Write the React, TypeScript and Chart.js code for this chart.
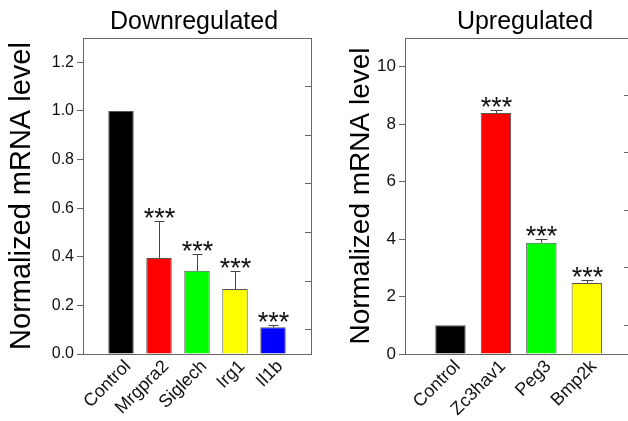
import React, { useEffect, useRef } from 'react';
import { Chart, registerables } from 'chart.js';

Chart.register(...registerables);

const FONT = '"Liberation Sans", Arial, Helvetica, sans-serif';

// ---- Downregulated panel data ----
const downCategories = ['Control', 'Mrgpra2', 'Siglech', 'Irg1', 'Il1b'];
const downValues = [1.0, 0.395, 0.342, 0.267, 0.11];
const downErrors = [0, 0.151, 0.069, 0.075, 0.01];
const downColors = ['#000000', '#ff0000', '#00ff00', '#ffff00', '#0000ff'];
const downStars = ['', '***', '***', '***', '***'];
const downYTicks = [0, 0.2, 0.4, 0.6, 0.8, 1.0, 1.2];
const downMinorTicks = [0.1, 0.3, 0.5, 0.7, 0.9, 1.1];

// ---- Upregulated panel data ----
const upCategories = ['Control', 'Zc3hav1', 'Peg3', 'Bmp2k'];
const upValues = [1.0, 8.39, 3.87, 2.47];
const upErrors = [0, 0.1, 0.13, 0.09];
const upColors = ['#000000', '#ff0000', '#00ff00', '#ffff00'];
const upStars = ['', '***', '***', '***'];
const upYTicks = [0, 2, 4, 6, 8, 10];
const upMinorTicks = [1, 3, 5, 7, 9];

type Panel = {
  title: string;
  titleX: number;
  categories: string[];
  values: number[];
  errors: number[];
  colors: string[];
  stars: string[];
  yTicks: number[];
  minorTicks: number[];
  yMax: number;
  xMin: number;
  xMax: number;
  decimals: number;
  leftWidth: number;
  rightWidth: number;
  yTitlePad: number;
  yTitleSize: number;
  tickFont: number;
  cap: number;
};

function makeConfig(p: Panel): any {
  const overlay = {
    id: 'overlay' + p.title,
    afterDatasetsDraw(chart: any) {
      const { ctx, scales } = chart;
      const x = scales.x;
      const y = scales.y;
      ctx.save();
      p.values.forEach((v, i) => {
        const err = p.errors[i];
        const px = Math.round(x.getPixelForValue(i)) + 0.5;
        const yTop = y.getPixelForValue(v);
        const yErr = Math.round(y.getPixelForValue(v + err)) + 0.5;
        if (err > 0) {
          ctx.strokeStyle = '#444';
          ctx.lineWidth = 1;
          ctx.beginPath();
          ctx.moveTo(px, yTop);
          ctx.lineTo(px, yErr);
          ctx.moveTo(px - p.cap / 2, yErr);
          ctx.lineTo(px + p.cap / 2, yErr);
          ctx.stroke();
        }
        if (p.stars[i]) {
          ctx.font = `27px ${FONT}`;
          ctx.fillStyle = '#111';
          ctx.textAlign = 'center';
          ctx.textBaseline = 'alphabetic';
          const m = ctx.measureText(p.stars[i]);
          const base = yErr - 4 - m.actualBoundingBoxDescent;
          ctx.fillText(p.stars[i], px, base);
        }
      });
      ctx.font = `25px ${FONT}`;
      ctx.fillStyle = '#000';
      ctx.textAlign = 'center';
      ctx.textBaseline = 'alphabetic';
      ctx.fillText(p.title, p.titleX, 29);
      ctx.restore();
    },
  };

  return {
    type: 'bar',
    data: {
      datasets: [
        {
          data: p.values.map((v, i) => ({ x: i, y: v })),
          backgroundColor: p.colors,
          borderColor: '#555',
          borderWidth: 1,
          categoryPercentage: 1,
          barPercentage: 0.67,
        },
      ],
    },
    options: {
      responsive: false,
      animation: false,
      devicePixelRatio: 1,
      layout: { padding: { top: 38, left: 0, right: 0, bottom: 0 } },
      plugins: {
        legend: { display: false },
        tooltip: { enabled: false },
        title: { display: false },
      },
      scales: {
        x: {
          type: 'linear',
          position: 'bottom',
          min: p.xMin,
          max: p.xMax,
          offset: false,
          afterBuildTicks: (s: any) => {
            s.ticks = p.categories.map((_, i) => ({ value: i }));
          },
          afterFit: (s: any) => {
            s.height = 67;
          },
          grid: { display: false, drawTicks: false },
          border: { display: true, color: '#666', width: 1 },
          ticks: {
            autoSkip: false,
            minRotation: 45,
            maxRotation: 45,
            padding: 2,
            labelOffset: 7,
            color: '#111',
            font: { size: 18, family: FONT },
            callback: (v: any) => p.categories[v] ?? '',
          },
        },
        x2: {
          type: 'linear',
          position: 'top',
          min: p.xMin,
          max: p.xMax,
          afterFit: (s: any) => {
            s.height = 0;
          },
          grid: { display: false, drawTicks: false },
          border: { display: true, color: '#666', width: 1 },
          ticks: { display: false },
        },
        y: {
          type: 'linear',
          position: 'left',
          min: 0,
          max: p.yMax,
          afterBuildTicks: (s: any) => {
            s.ticks = p.yTicks.map((v) => ({ value: v }));
          },
          afterFit: (s: any) => {
            s.width = p.leftWidth;
          },
          grid: { drawOnChartArea: false, drawTicks: true, tickLength: 6, color: '#666' },
          border: { display: true, color: '#666', width: 1 },
          ticks: {
            padding: 3,
            color: '#111',
            font: { size: p.tickFont, family: FONT },
            callback: (v: any) => Number(v).toFixed(p.decimals),
          },
          title: {
            display: true,
            text: 'Normalized mRNA level',
            color: '#000',
            font: { size: p.yTitleSize, family: FONT },
            padding: { top: p.yTitlePad, bottom: 0 },
          },
        },
        y2: {
          type: 'linear',
          position: 'right',
          min: 0,
          max: p.yMax,
          afterBuildTicks: (s: any) => {
            s.ticks = p.minorTicks.map((v) => ({ value: v }));
          },
          afterFit: (s: any) => {
            s.width = p.rightWidth;
          },
          grid: { drawOnChartArea: false, drawTicks: true, tickLength: -6, color: '#666' },
          border: { display: true, color: '#666', width: 1 },
          ticks: { display: false },
        },
      },
    },
    plugins: [overlay],
  };
}

const downPanel: Panel = {
  title: 'Downregulated',
  titleX: 194,
  categories: downCategories,
  values: downValues,
  errors: downErrors,
  colors: downColors,
  stars: downStars,
  yTicks: downYTicks,
  minorTicks: downMinorTicks,
  yMax: 1.3,
  xMin: -1,
  xMax: 5,
  decimals: 1,
  leftWidth: 83,
  rightWidth: 9,
  yTitlePad: 5,
  yTitleSize: 29,
  tickFont: 16,
  cap: 10,
};

const upPanel: Panel = {
  title: 'Upregulated',
  titleX: 205,
  categories: upCategories,
  values: upValues,
  errors: upErrors,
  colors: upColors,
  stars: upStars,
  yTicks: upYTicks,
  minorTicks: upMinorTicks,
  yMax: 11,
  xMin: -1,
  xMax: 3.95,
  decimals: 0,
  leftWidth: 85,
  rightWidth: 20,
  yTitlePad: 24,
  yTitleSize: 28,
  tickFont: 17,
  cap: 12,
};

export default function App() {
  const leftRef = useRef<HTMLCanvasElement | null>(null);
  const rightRef = useRef<HTMLCanvasElement | null>(null);

  useEffect(() => {
    const charts: Chart[] = [];
    if (leftRef.current) charts.push(new Chart(leftRef.current, makeConfig(downPanel)));
    if (rightRef.current) charts.push(new Chart(rightRef.current, makeConfig(upPanel)));
    return () => {
      charts.forEach((c) => c.destroy());
    };
  }, []);

  return (
    <div
      style={{
        position: 'absolute',
        left: 0,
        top: 0,
        width: 628,
        height: 421,
        overflow: 'hidden',
        background: '#ffffff',
      }}
    >
      <canvas
        ref={leftRef}
        width={320}
        height={421}
        style={{ position: 'absolute', left: 0, top: 0, width: 320, height: 421 }}
      />
      <canvas
        ref={rightRef}
        width={330}
        height={421}
        style={{ position: 'absolute', left: 320, top: 0, width: 330, height: 421 }}
      />
    </div>
  );
}
